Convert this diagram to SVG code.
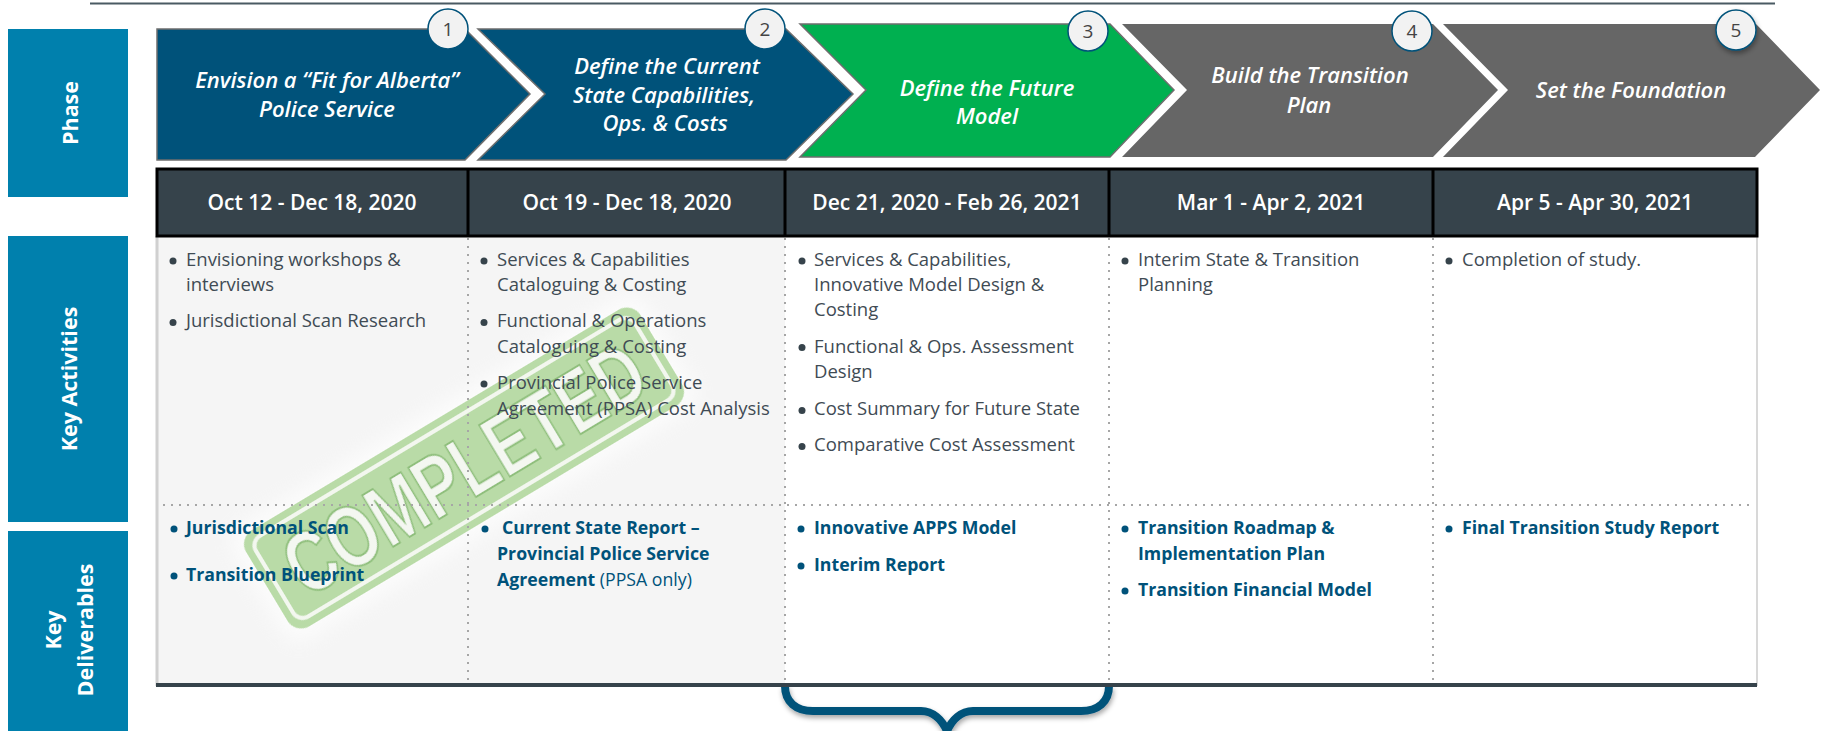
<svg xmlns="http://www.w3.org/2000/svg" width="1826" height="731" viewBox="0 0 1826 731">
<defs>
<filter id="sh" x="-20%" y="-20%" width="140%" height="150%"><feDropShadow dx="1" dy="3" stdDeviation="2.5" flood-color="#000" flood-opacity="0.35"/></filter>
<filter id="bl" x="-10%" y="-10%" width="120%" height="120%"><feGaussianBlur stdDeviation="0.6"/></filter>
<filter id="halo" x="-20%" y="-40%" width="140%" height="180%"><feGaussianBlur stdDeviation="10"/></filter>
</defs>
<style>
text{font-family:"Open Sans","Noto Sans","Liberation Sans",sans-serif}
.side{fill:#0080ad}
.sidet{fill:#fff;font-size:21.5px;font-weight:700;text-anchor:middle}
.chev{stroke:#6e6e6e;stroke-width:1.5}
.blue{fill:#00527a}.green{fill:#00b050}.gray{fill:#666;stroke:none}
.pt{fill:#fff;font-size:22px;font-weight:600;font-style:italic;text-anchor:middle}
.circ{fill:#f2f2f2;stroke:#00527a;stroke-width:1.5}
.ct{fill:#444;font-size:19px;text-anchor:middle}
.hd{fill:#36434b}
.ht{fill:#fff;font-size:21px;font-weight:600;text-anchor:middle}
.b{fill:#3f4b54;font-size:18.5px}
.d{fill:#00527a;font-size:17.7px;font-weight:700}
.r{font-weight:400}
.db{fill:#36434b}
.du{fill:#00527a}
.dot{stroke:#a6a6a6;stroke-width:2;stroke-dasharray:2 6;fill:none}
</style>
<line id="top-rule" x1="90" y1="3.500" x2="1775" y2="3.500" stroke="#4a5a63" stroke-width="2"/>
<g id="row-phase"><rect class="side" x="8" y="29" width="120" height="168"/><text class="sidet" transform="translate(78,113) rotate(-90)">Phase</text></g>
<g id="row-activities"><rect class="side" x="8" y="236" width="120" height="286"/><text class="sidet" transform="translate(77,379) rotate(-90)">Key Activities</text></g>
<g id="row-deliverables"><rect class="side" x="8" y="531" width="120" height="200"/><text class="sidet" transform="rotate(-90 0 0)"><tspan x="-630" y="61">Key</tspan><tspan x="-630" y="92.500">Deliverables</tspan></text></g>
<rect x="157" y="236" width="628" height="448" fill="#f5f5f5"/>
<rect x="785" y="236" width="972" height="448" fill="#fff"/>
<path d="M157 236V686" stroke="#d0d0d0" stroke-width="3" fill="none"/>
<path d="M1757 236V686" stroke="#d8d8d8" stroke-width="2" fill="none"/>
<g id="stamp" transform="translate(464,468) rotate(-31)">
<rect x="-240" y="-66" width="480" height="132" rx="20" fill="#fff" opacity="0.7" filter="url(#halo)"/>
<g filter="url(#bl)">
<rect x="-230" y="-56" width="460" height="112" rx="16" fill="#b9dba7"/>
<rect x="-221" y="-47" width="442" height="94" rx="11" fill="none" stroke="#f3f7ef" stroke-width="4"/>
<text x="0" y="31" text-anchor="middle" font-size="88" font-weight="700" textLength="405" lengthAdjust="spacingAndGlyphs" fill="#f4f7f1" stroke="#8fbf7c" stroke-width="2" style="font-family:'Liberation Sans',sans-serif">COMPLETED</text>
</g>
</g>
<g id="connectors">
<path class="dot" d="M468 238V684M785 238V684M1109 238V684M1433 238V684M163 505H1755"/>
<path id="brace" d="M785 686C785 702 796 711 813 711H921C933 711 942 720 947 731C952 720 961 711 973 711H1081C1098 711 1109 702 1109 686" fill="none" stroke="#00527a" stroke-width="8" filter="url(#sh)"/>
<line x1="156" y1="685" x2="1757" y2="685" stroke="#36434b" stroke-width="4"/>
</g>
<g id="phase-1"><path class="chev blue" d="M157 29H465L530 94L465 160H157Z"/><text class="pt"><tspan x="327" y="88">Envision a “Fit for Alberta”</tspan><tspan x="327" y="116.500">Police Service</tspan></text><circle class="circ" cx="448" cy="29" r="20"/><text class="ct" x="448" y="36">1</text></g>
<g id="phase-2"><path class="chev blue" d="M478 29H786L853 94L786 160H478L545 94Z"/><text class="pt"><tspan x="667" y="74">Define the Current</tspan><tspan x="664" y="102.500">State Capabilities,</tspan><tspan x="665" y="131">Ops. &amp; Costs</tspan></text><circle class="circ" cx="765" cy="29" r="20"/><text class="ct" x="765" y="36">2</text></g>
<g id="phase-3"><path class="chev green" d="M800 24H1110L1174 90L1110 157H800L866 90Z"/><text class="pt"><tspan x="987" y="96">Define the Future</tspan><tspan x="987" y="124">Model</tspan></text><circle class="circ" cx="1088" cy="31" r="20"/><text class="ct" x="1088" y="38">3</text></g>
<g id="phase-4"><path class="gray" d="M1122 24H1433L1498 90L1433 157H1122L1187 90Z"/><text class="pt"><tspan x="1310" y="83">Build the Transition</tspan><tspan x="1309" y="112.500">Plan</tspan></text><circle class="circ" cx="1412" cy="31" r="20"/><text class="ct" x="1412" y="38">4</text></g>
<g id="phase-5"><path class="gray" d="M1443 24H1756L1820 90L1755 157H1443L1508 90Z"/><text class="pt"><tspan x="1631" y="98">Set the Foundation</tspan></text><circle class="circ" cx="1736" cy="30" r="20" filter="url(#sh)"/><text class="ct" x="1736" y="37">5</text></g>
<g id="header">
<rect class="hd" x="157" y="169" width="1600" height="67" stroke="#000" stroke-width="3"/>
<path d="M468 169V236M785 169V236M1109 169V236M1433 169V236" stroke="#000" stroke-width="3"/>
<text class="ht" x="312" y="210">Oct 12 - Dec 18, 2020</text>
<text class="ht" x="627" y="210">Oct 19 - Dec 18, 2020</text>
<text class="ht" x="947" y="210">Dec 21, 2020 - Feb 26, 2021</text>
<text class="ht" x="1271" y="210">Mar 1 - Apr 2, 2021</text>
<text class="ht" x="1595" y="210">Apr 5 - Apr 30, 2021</text>
</g>
<g id="activities">
<g class="db">
<circle cx="173" cy="261" r="3.500"/><circle cx="173" cy="322.500" r="3.500"/>
<circle cx="484" cy="261" r="3.500"/><circle cx="484" cy="322.500" r="3.500"/><circle cx="484" cy="384" r="3.500"/>
<circle cx="802" cy="261" r="3.500"/><circle cx="802" cy="347.500" r="3.500"/><circle cx="802" cy="410.500" r="3.500"/><circle cx="802" cy="446.500" r="3.500"/>
<circle cx="1125" cy="261" r="3.500"/><circle cx="1449" cy="261" r="3.500"/>
</g>
<text class="b" x="186" y="265.500">Envisioning workshops &amp;</text>
<text class="b" x="186" y="291">interviews</text>
<text class="b" x="186" y="327">Jurisdictional Scan Research</text>
<text class="b" x="497" y="265.500">Services &amp; Capabilities</text>
<text class="b" x="497" y="291">Cataloguing &amp; Costing</text>
<text class="b" x="497" y="327">Functional &amp; Operations</text>
<text class="b" x="497" y="352.500">Cataloguing &amp; Costing</text>
<text class="b" x="497" y="388.500">Provincial Police Service</text>
<text class="b" x="497" y="415">Agreement (PPSA) Cost Analysis</text>
<text class="b" x="814" y="265.500">Services &amp; Capabilities,</text>
<text class="b" x="814" y="291">Innovative Model Design &amp;</text>
<text class="b" x="814" y="316">Costing</text>
<text class="b" x="814" y="352.500">Functional &amp; Ops. Assessment</text>
<text class="b" x="814" y="378">Design</text>
<text class="b" x="814" y="415">Cost Summary for Future State</text>
<text class="b" x="814" y="451">Comparative Cost Assessment</text>
<text class="b" x="1138" y="265.500">Interim State &amp; Transition</text>
<text class="b" x="1138" y="291">Planning</text>
<text class="b" x="1462" y="265.500">Completion of study.</text>
</g>
<g id="deliverables">
<g class="du">
<circle cx="174" cy="529" r="3.500"/><circle cx="174" cy="576" r="3.500"/>
<circle cx="485" cy="529" r="3.500"/>
<circle cx="801" cy="529" r="3.500"/><circle cx="801" cy="566" r="3.500"/>
<circle cx="1125" cy="529" r="3.500"/><circle cx="1125" cy="591" r="3.500"/>
<circle cx="1449" cy="529" r="3.500"/>
</g>
<text class="d" x="186" y="534">Jurisdictional Scan</text>
<text class="d" x="186" y="581">Transition Blueprint</text>
<text class="d" x="502" y="534">Current State Report –</text>
<text class="d" x="497" y="560">Provincial Police Service</text>
<text class="d" x="497" y="586">Agreement<tspan class="r"> (PPSA only)</tspan></text>
<text class="d" x="814" y="534">Innovative APPS Model</text>
<text class="d" x="814" y="571">Interim Report</text>
<text class="d" x="1138" y="534">Transition Roadmap &amp;</text>
<text class="d" x="1138" y="560">Implementation Plan</text>
<text class="d" x="1138" y="596">Transition Financial Model</text>
<text class="d" x="1462" y="534">Final Transition Study Report</text>
</g>
</svg>
